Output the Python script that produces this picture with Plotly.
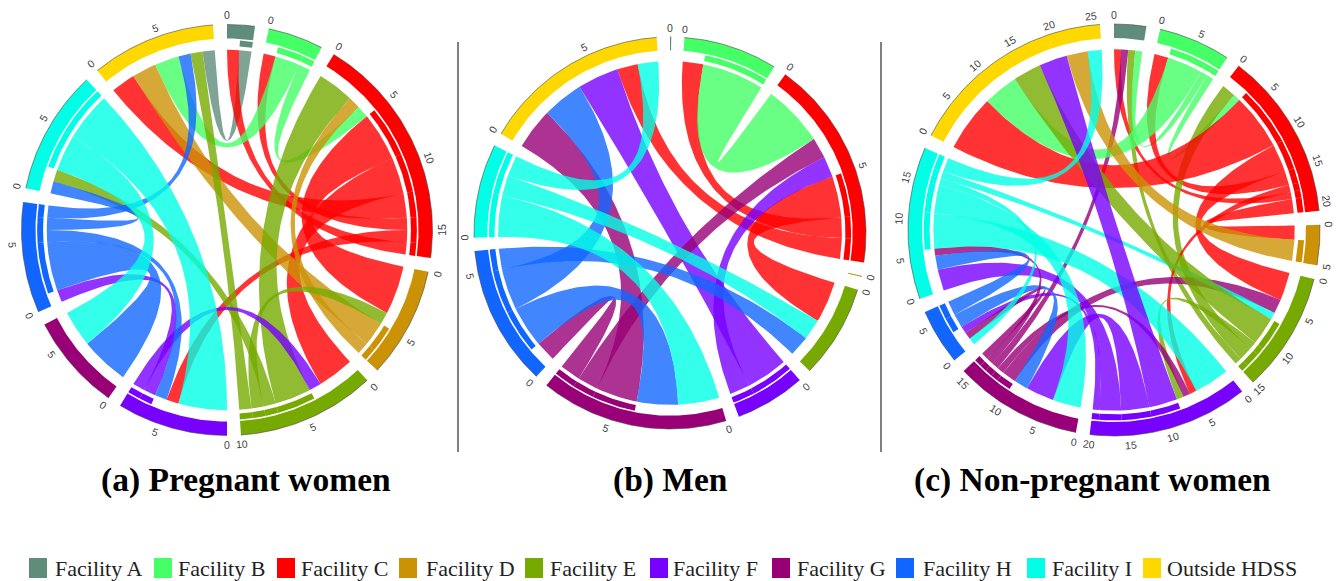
import numpy as np
import plotly.graph_objects as go

# ---------- data ----------
facility_keys = ["A", "B", "C", "D", "E", "F", "G", "H", "I", "O"]
facility_names = ["Facility A", "Facility B", "Facility C", "Facility D", "Facility E",
                  "Facility F", "Facility G", "Facility H", "Facility I", "Outside HDSS"]
facility_colors = ["#5f8d7a", "#44ff66", "#ff0000", "#cc9206", "#76aa00",
                   "#7700ff", "#990077", "#1166ff", "#00ffe6", "#ffd800"]

flows_a = [("A","O",1),("C","A",1),("C","B",1),("C","D",4),("C","E",3),("C","F",1),("C","O",2),
           ("B","O",2),("B","C",1),("D","C",1),("D","O",2),("E","C",3),("E","D",1),("E","I",1),
           ("E","O",1),("F","E",1),("F","H",1),("H","O",1),("H","I",1),("H","F",1),("H","G",4),
           ("I","F",4),("I","G",3)]
order_a = {"A":["C>A","A>O"],
           "B":["C>B","B>O","B>C"],
           "C":["E>C","D>C","B>C","C>D","C>E","C>O","C>B","C>F","C>A"],
           "D":["C>D","E>D","D>O","D>C"],
           "E":["C>E","F>E","E>C","E>I","E>D","E>O"],
           "F":["I>F","C>F","H>F","F>H","F>E"],
           "G":["H>G","I>G"],
           "H":["F>H","H>G","H>F","H>I","H>O"],
           "I":["H>I","E>I","I>G","I>F"],
           "O":["C>O","D>O","B>O","H>O","E>O","A>O"]}

flows_b = [("C","B",1),("B","C",3),("C","E",2),("C","O",1),("F","O",2),("F","C",1),("G","O",2),
           ("G","C",1),("G","H",1),("H","G",2),("H","E",1),("H","O",2),("I","G",2),("I","E",1),
           ("I","O",1)]
order_b = {"A":[],
           "B":["C>B","B>C"],
           "C":["B>C","G>C","F>C","C>E","C>B","C>O"],
           "D":[],
           "E":["C>E","I>E","H>E"],
           "F":["F>O","F>C"],
           "G":["I>G","H>G","G>O","G>C","G>H"],
           "H":["G>H","H>G","H>O","H>E"],
           "I":["I>G","I>E","I>O"],
           "O":["G>O","H>O","F>O","C>O","I>O"]}

flows_c = [("C","A",1),("G","A",1),("E","A",1),("B","A",1),("C","B",2),("B","O",5),("B","C",1),
           ("E","C",2),("C","O",8),("C","E",4),("C","F",1),("C","D",2),("D","O",3),("G","E",2),
           ("I","E",1),("E","O",4),("E","F",1),("I","F",5),("G","F",1),("F","O",4),("F","G",4),
           ("F","I",3),("F","H",1),("I","G",4),("H","G",2),("G","I",1),("G","H",1),("I","H",1),
           ("H","I",2),("I","O",2)]
order_c = {"A":["C>A","G>A","E>A","B>A"],
           "B":["C>B","B>O","B>A","B>C"],
           "C":["E>C","B>C","C>O","C>E","C>B","C>F","C>A","C>D"],
           "D":["C>D","D>O"],
           "E":["C>E","G>E","I>E","E>O","E>F","E>C","E>A"],
           "F":["I>F","C>F","G>F","E>F","F>O","F>G","F>I","F>H"],
           "G":["I>G","F>G","H>G","G>E","G>F","G>A","G>I","G>H"],
           "H":["I>H","G>H","F>H","H>G","H>I"],
           "I":["F>I","H>I","G>I","I>F","I>G","I>H","I>E","I>O"],
           "O":["C>O","B>O","E>O","F>O","D>O","I>O"]}

panel_titles = ["(a) Pregnant women", "(b) Men", "(c) Non-pregnant women"]
tick_step = 5

# ---------- layout constants ----------
W, H = 1338, 581
panels = [
    dict(flows=flows_a, order=order_a, cx=227, cy=230, R=205.5, title_x=246),
    dict(flows=flows_b, order=order_b, cx=670, cy=233, R=196, title_x=670),
    dict(flows=flows_c, order=order_c, cx=1114, cy=230, R=206, title_x=1092),
]
GAP = 3.9
EMPTY_WIDTH = 0.05
TRACK_IN, BAR_OUT, BAR_IN, CHORD_R, LABEL_R = 0.932, 0.924, 0.895, 0.877, 1.045
CHORD_ALPHA = 0.8
legend_swatch_x = [29, 154, 277, 399, 525, 650, 772, 896, 1027, 1143]
legend_text_x = [53, 176, 299, 424, 548, 671, 795, 921, 1050, 1165]
LEGEND_Y = 568


def rgba(hexcol, a):
    return f"rgba({int(hexcol[1:3],16)},{int(hexcol[3:5],16)},{int(hexcol[5:7],16)},{a})"


def polar(cx, cy, r, deg):
    t = np.radians(deg)
    return cx + r * np.sin(t), cy - r * np.cos(t)


def arc(cx, cy, r, a, b, n=None):
    n = n or max(2, int(abs(b - a) * 1.5) + 2)
    return polar(cx, cy, r, np.linspace(a, b, n))


def bezier(p0, p1, c, n=70):
    t = np.linspace(0, 1, n)
    return ((1-t)**2*p0[0] + 2*t*(1-t)*c[0] + t*t*p1[0],
            (1-t)**2*p0[1] + 2*t*(1-t)*c[1] + t*t*p1[1])


fig = go.Figure()
color_of = dict(zip(facility_keys, facility_colors))


def add_poly(xs, ys, col):
    fig.add_trace(go.Scatter(x=np.round(xs, 2).tolist(), y=np.round(ys, 2).tolist(), mode="lines",
                             fill="toself", fillcolor=col, line=dict(width=0, color=col),
                             hoverinfo="skip", showlegend=False))


annotations = []
for p in panels:
    cx, cy, R = p["cx"], p["cy"], p["R"]
    val = {f"{s}>{d}": v for s, d, v in p["flows"]}
    totals = {k: sum(val[e] for e in p["order"][k]) or EMPTY_WIDTH for k in facility_keys}
    scale = (360 - GAP * len(facility_keys)) / sum(totals.values())
    ends, start = {}, {}
    ang = 0.0
    for k in facility_keys:
        start[k] = ang
        a = ang
        for e in p["order"][k]:
            ends[(e, k)] = (a, a + val[e] * scale)
            a += val[e] * scale
        ang += totals[k] * scale + GAP

    # chords
    for s, d, v in p["flows"]:
        key = f"{s}>{d}"
        a1, a2 = ends[(key, s)]
        b1, b2 = ends[(key, d)]
        r = R * CHORD_R
        e1 = bezier(polar(cx, cy, r, a2), polar(cx, cy, r, b1), (cx, cy))
        ab = arc(cx, cy, r, b1, b2)
        e2 = bezier(polar(cx, cy, r, b2), polar(cx, cy, r, a1), (cx, cy))
        aa = arc(cx, cy, r, a1, a2)
        add_poly(np.concatenate([e1[0], ab[0], e2[0], aa[0]]),
                 np.concatenate([e1[1], ab[1], e2[1], aa[1]]),
                 rgba(color_of[s], CHORD_ALPHA))

    # source bars
    for s, d, v in p["flows"]:
        a1, a2 = ends[(f"{s}>{d}", s)]
        o = arc(cx, cy, R * BAR_OUT, a1, a2)
        i = arc(cx, cy, R * BAR_IN, a2, a1)
        add_poly(np.concatenate([o[0], i[0]]), np.concatenate([o[1], i[1]]), color_of[s])

    # outer tracks, axis line, tick labels
    for k in facility_keys:
        a, b = start[k], start[k] + totals[k] * scale
        o = arc(cx, cy, R, a, b)
        i = arc(cx, cy, R * TRACK_IN, b, a)
        add_poly(np.concatenate([o[0], i[0]]), np.concatenate([o[1], i[1]]), color_of[k])
        fig.add_trace(go.Scatter(x=o[0].tolist(), y=o[1].tolist(), mode="lines",
                                 line=dict(width=0.6, color="#444444"),
                                 hoverinfo="skip", showlegend=False))
        for t in np.arange(0, totals[k] + 1e-6, tick_step):
            th = a + t * scale
            lx, ly = polar(cx, cy, R * LABEL_R, th)
            rot = th - 180 if 90 < th < 270 else (th - 360 if th >= 270 else th)
            annotations.append(dict(x=float(lx), y=float(ly), xref="x", yref="y", text=str(int(t)),
                                    showarrow=False, textangle=float(rot),
                                    font=dict(family="Liberation Sans", size=10.5, color="#404040")))

for p, title in zip(panels, panel_titles):
    annotations.append(dict(x=p["title_x"], y=480, xref="x", yref="y", text=f"<b>{title}</b>",
                            showarrow=False,
                            font=dict(family="Liberation Serif", size=33.5, color="#000000")))

shapes = [dict(type="line", x0=x, x1=x, y0=42, y1=452, xref="x", yref="y",
               line=dict(color="#808080", width=2)) for x in (458, 881)]

# legend row
for name, col, sx, tx in zip(facility_names, facility_colors, legend_swatch_x, legend_text_x):
    shapes.append(dict(type="rect", x0=sx, x1=sx + 18, y0=LEGEND_Y - 10, y1=LEGEND_Y + 10,
                       xref="x", yref="y", fillcolor=col, line=dict(width=0)))
    annotations.append(dict(x=tx, y=LEGEND_Y, xref="x", yref="y", text=name, showarrow=False,
                            xanchor="left", yanchor="middle",
                            font=dict(family="Liberation Serif", size=22, color="#222222")))

fig.update_layout(
    width=W, height=H, margin=dict(l=0, r=0, t=0, b=0),
    paper_bgcolor="white", plot_bgcolor="white", showlegend=False,
    xaxis=dict(range=[0, W], visible=False, fixedrange=True),
    yaxis=dict(range=[H, 0], visible=False, fixedrange=True),
    annotations=annotations, shapes=shapes,
)
fig.write_html("out.html", config={"displayModeBar": False},
               post_script="document.body.style.margin='0';document.body.style.overflow='hidden';")
